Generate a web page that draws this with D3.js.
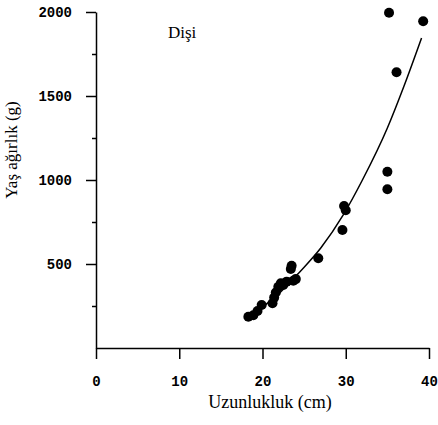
<!DOCTYPE html>
<html>
<head>
<meta charset="utf-8">
<script src="https://cdn.jsdelivr.net/npm/d3@7"></script>
<style>
  html, body { margin: 0; padding: 0; background: #fff; }
  svg { display: block; }
</style>
</head>
<body>
<svg id="chart" width="438" height="425"></svg>
<script>
// ---- data ----
const lengthCm = [18.3, 18.9, 19.4, 19.9, 21.2, 21.4, 21.6, 21.9, 22.2, 22.5, 22.9, 23.4, 23.5, 23.7, 24.0, 26.7, 29.6, 29.8, 30.0, 35.0, 35.0, 35.2, 36.1, 39.3];
const weightG  = [186, 195, 220, 256, 266, 300, 330, 365, 385, 375, 395, 470, 490, 400, 410, 534, 702, 845, 820, 1049, 945, 1996, 1641, 1945];
// fitted curve, points
const curveL = [18.5, 20, 22, 24.5, 27, 29.7, 32, 35, 37, 39.1];
const curveW = [190, 243, 325, 454, 595, 792, 1000, 1310, 1560, 1845];
const xTicks = [0, 10, 20, 30, 40];
const yTicks = [500, 1000, 1500, 2000];
const yMinorTicks = [250, 750, 1250, 1750];
const xTitle = "Uzunlukluk (cm)";
const yTitle = "Yaş ağırlık (g)";
const panelLabel = "Dişi";

const svg = d3.select("#chart");
const x = d3.scaleLinear().domain([0, 40]).range([96, 429]);
const y = d3.scaleLinear().domain([0, 2000]).range([348, 12]);

const tickFont = "'Liberation Mono', 'Courier New', monospace";
const serif = "'Liberation Serif', 'Times New Roman', serif";

// x axis
const xAxis = d3.axisBottom(x).tickValues(xTicks).tickFormat(d3.format("d"))
  .tickSize(11).tickPadding(17).tickSizeOuter(0);
const gx = svg.append("g").attr("transform", `translate(0,${y(0)})`).call(xAxis);
gx.select(".domain").attr("stroke", "#000").attr("stroke-width", 1.5);
gx.selectAll(".tick line").attr("stroke", "#000").attr("stroke-width", 1.5);
gx.selectAll(".tick text").attr("font-family", tickFont).attr("font-size", 14)
  .attr("font-weight", "bold").attr("fill", "#000");

// y axis
const yAxis = d3.axisLeft(y).tickValues(yTicks).tickFormat(d3.format("d"))
  .tickSize(10).tickPadding(14).tickSizeOuter(0);
const gy = svg.append("g").attr("transform", `translate(${x(0)},0)`).call(yAxis);
gy.select(".domain").attr("stroke", "#000").attr("stroke-width", 1.5);
gy.selectAll(".tick line").attr("stroke", "#000").attr("stroke-width", 1.5);
gy.selectAll(".tick text").attr("font-family", tickFont).attr("font-size", 14)
  .attr("font-weight", "bold").attr("fill", "#000");

// minor y ticks
const yMinor = d3.axisLeft(y).tickValues(yMinorTicks).tickSize(4).tickFormat("");
const gym = svg.append("g").attr("transform", `translate(${x(0)},0)`).call(yMinor);
gym.select(".domain").remove();
gym.selectAll(".tick line").attr("stroke", "#000").attr("stroke-width", 1.5);

// fitted curve
const line = d3.line().x(d => x(d[0])).y(d => y(d[1])).curve(d3.curveMonotoneX);
svg.append("path")
  .datum(curveL.map((l, i) => [l, curveW[i]]))
  .attr("d", line)
  .attr("fill", "none")
  .attr("stroke", "#000")
  .attr("stroke-width", 1.5);

// points
svg.append("g").selectAll("circle")
  .data(lengthCm.map((l, i) => [l, weightG[i]]))
  .join("circle")
  .attr("cx", d => x(d[0]))
  .attr("cy", d => y(d[1]))
  .attr("r", 5)
  .attr("fill", "#000");

// titles
svg.append("text")
  .attr("x", 270).attr("y", 408)
  .attr("text-anchor", "middle")
  .attr("font-family", serif).attr("font-size", 18)
  .attr("fill", "#000")
  .text(xTitle);

svg.append("text")
  .attr("transform", "translate(17,150) rotate(-90)")
  .attr("text-anchor", "middle")
  .attr("font-family", serif).attr("font-size", 17)
  .attr("fill", "#000")
  .text(yTitle);

svg.append("text")
  .attr("x", 168).attr("y", 38)
  .attr("font-family", serif).attr("font-size", 17)
  .attr("fill", "#000")
  .text(panelLabel);
</script>
</body>
</html>
